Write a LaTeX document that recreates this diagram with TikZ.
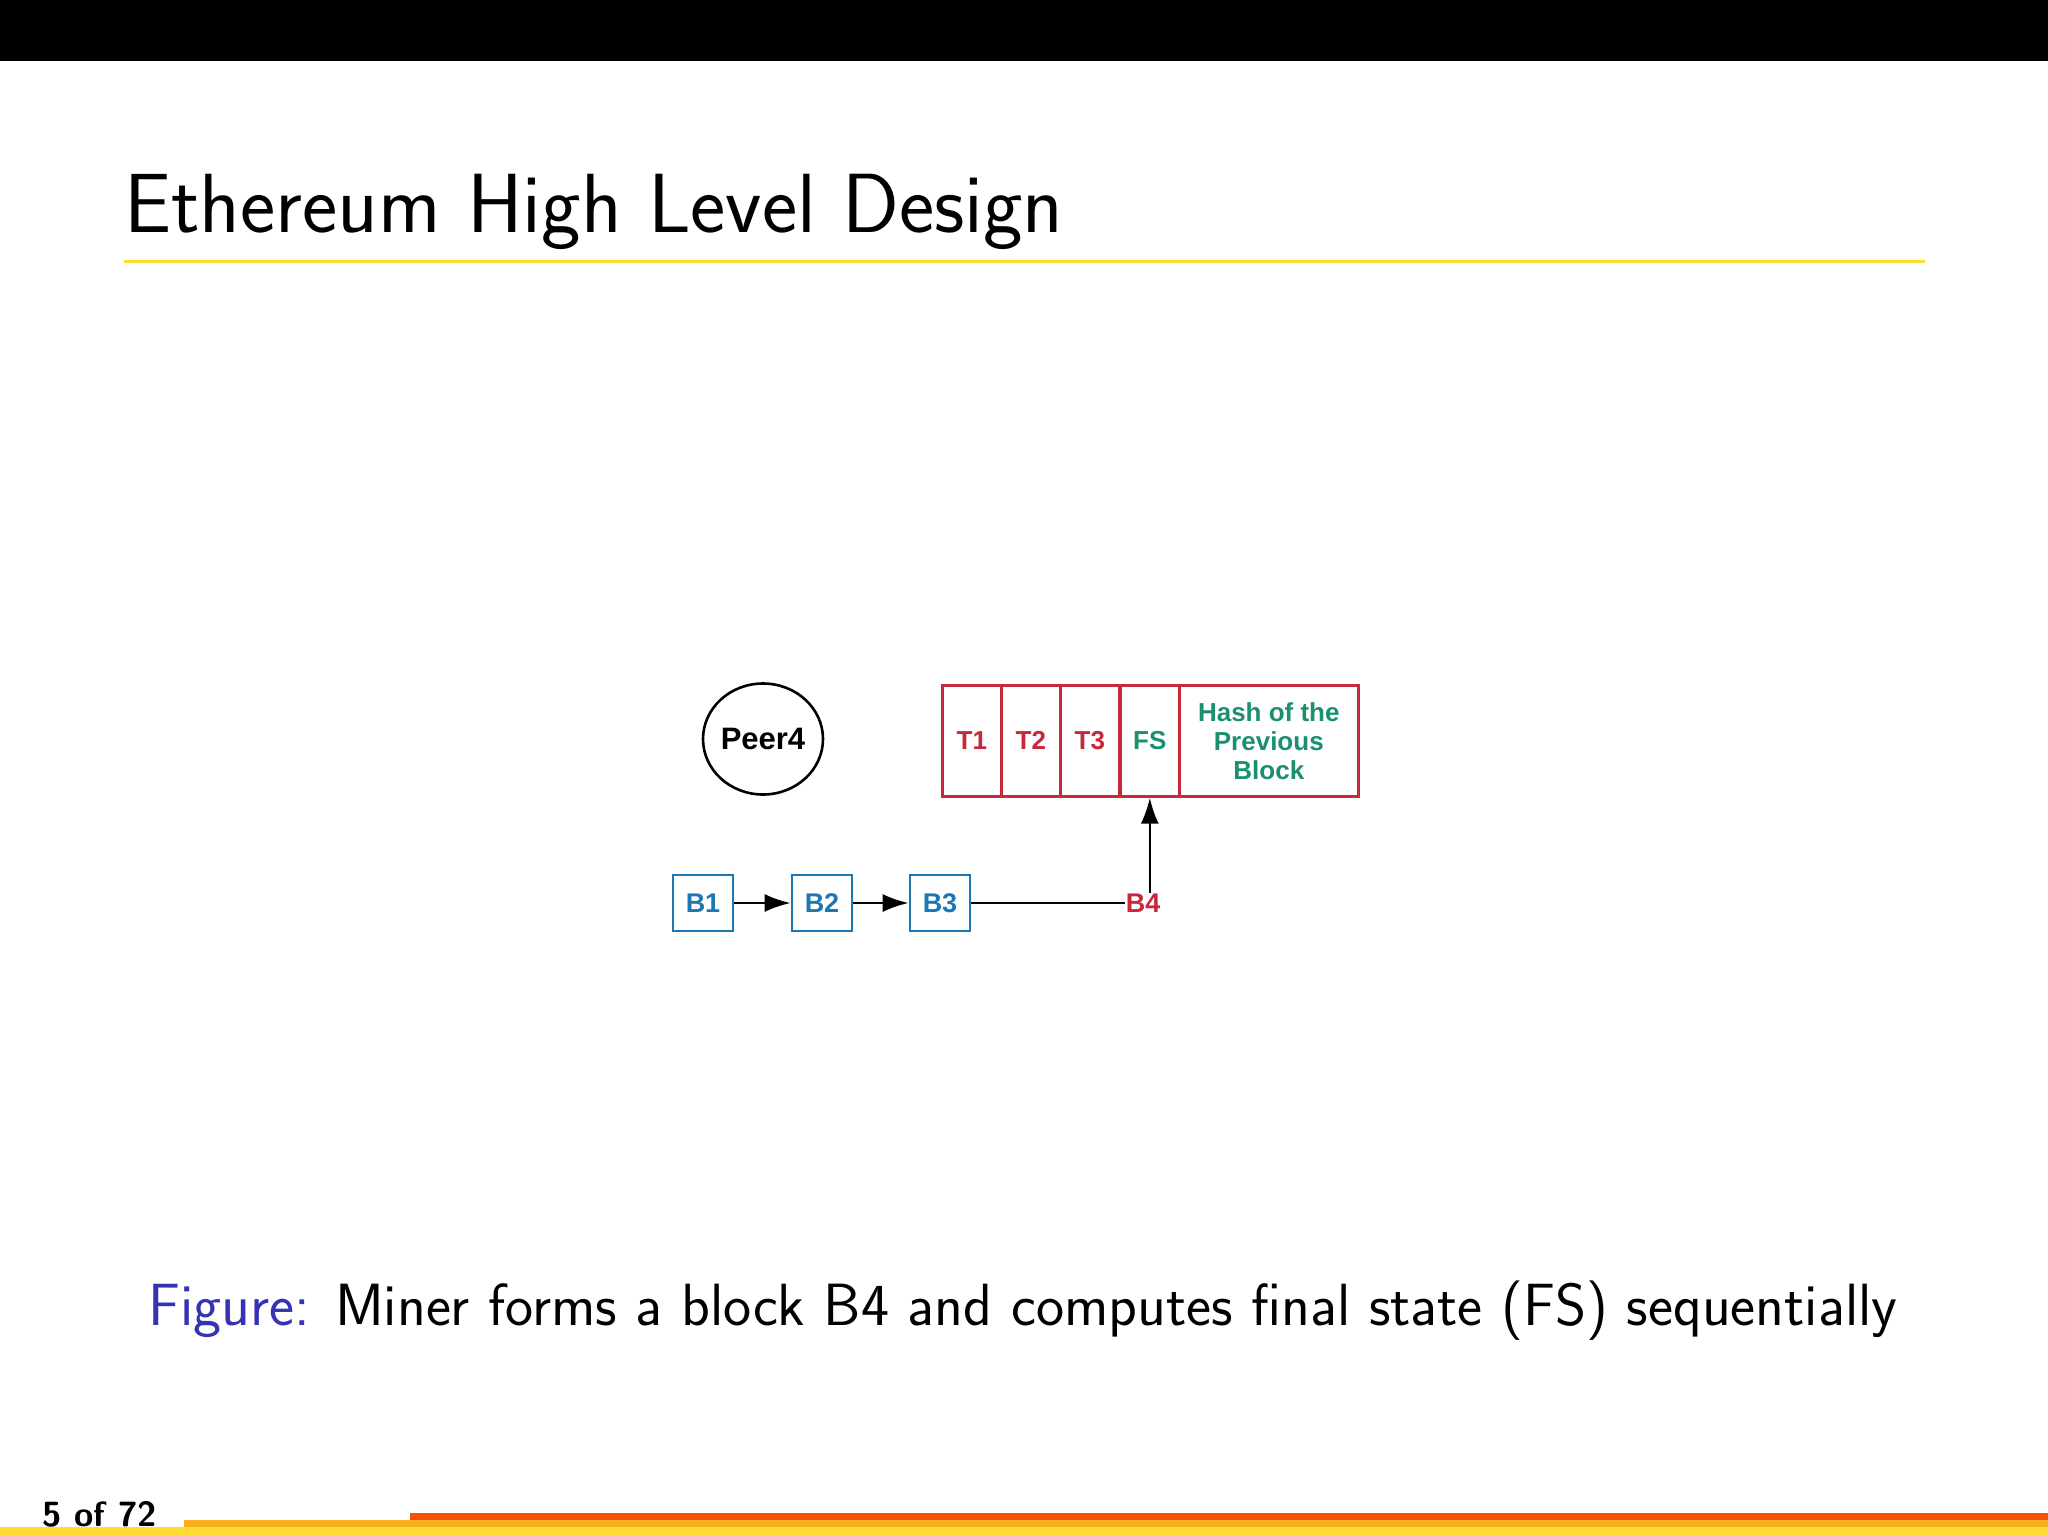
\documentclass[tikz,border=0pt]{standalone}
\usepackage{fontspec}
\newfontfamily\diag{Liberation Sans}
\usetikzlibrary{arrows.meta,shapes.geometric}
\definecolor{bblue}{HTML}{1B78B4}
\definecolor{bred}{HTML}{C8283C}
\definecolor{bgreen}{HTML}{1A9070}
\definecolor{figblue}{RGB}{51,51,179}
\definecolor{myyellow}{RGB}{255,221,51}
\definecolor{obar}{HTML}{FBAE1C}
\definecolor{rbar}{HTML}{F95008}
\tikzset{
 blk/.style={draw=bblue,line width=2.6pt,minimum width=60pt,minimum height=56pt,inner sep=0pt,text=bblue,font=\diag\bfseries\fontsize{27}{30}\selectfont},
 cell/.style={draw=bred,line width=2.6pt,minimum height=111pt,inner sep=0pt,font=\diag\bfseries\fontsize{26}{29}\selectfont,align=center},
 arr/.style={line width=2.6pt,-{Latex[length=26pt,width=18pt]}}
}
\begin{document}
\begin{tikzpicture}[x=1pt,y=-1pt]
\useasboundingbox (0,0) rectangle (2048,1536);
\fill[white] (0,0) rectangle (2048,1536);
\fill[black] (0,0) rectangle (2048,61);
\node[anchor=base west,inner sep=0pt,font=\sffamily\fontsize{84}{90}\selectfont] (title) at (124,232) {Ethereum High Level Design};
\fill[myyellow] (124,259.5) rectangle (1925,263);
% diagram
\node[draw,line width=2.6pt,ellipse,minimum width=120pt,minimum height=111pt,inner sep=0pt,font=\diag\bfseries\fontsize{31}{34}\selectfont] (peer) at (763,739) {Peer4};
\node[cell,minimum width=59pt,text=bred,anchor=north west] (t1) at (941,684) {T1};
\node[cell,minimum width=59pt,text=bred,anchor=north west] (t2) at (1000,684) {T2};
\node[cell,minimum width=59pt,text=bred,anchor=north west] (t3) at (1059,684) {T3};
\node[cell,minimum width=59pt,text=bgreen,anchor=north west] (fs) at (1119,684) {FS};
\node[cell,minimum width=179pt,text=bgreen,anchor=north west] (hash) at (1178,684) {Hash of the\\Previous\\Block};
\node[blk] (b1) at (703,903) {B1};
\node[blk] (b2) at (822,903) {B2};
\node[blk] (b3) at (940,903) {B3};
\node[inner sep=1pt,text=bred,font=\diag\bfseries\fontsize{27}{30}\selectfont] (b4) at (1143,903) {B4};
\draw[arr] (b1) -- (b2);
\draw[arr] (b2) -- (b3);
\draw[line width=2.6pt] (b3) -- (b4.west);
\draw[arr] (b4.north -| fs) -- (fs.south);
% caption
\node[anchor=base,inner sep=0pt,font=\sffamily\fontsize{59.6}{64}\selectfont] (cap) at (1023,1325) {\textcolor{figblue}{Figure:} Miner forms a block B4 and computes final state (FS) sequentially};
% footer
\fill[myyellow] (0,1527) rectangle (2048,1536);
\fill[obar] (184,1520) rectangle (2048,1527);
\fill[rbar] (410,1513) rectangle (2048,1520);
\node[anchor=base west,inner sep=0pt,font=\sffamily\bfseries\fontsize{35}{38}\selectfont] (pg) at (42,1526) {5 of 72};
\end{tikzpicture}
\end{document}
